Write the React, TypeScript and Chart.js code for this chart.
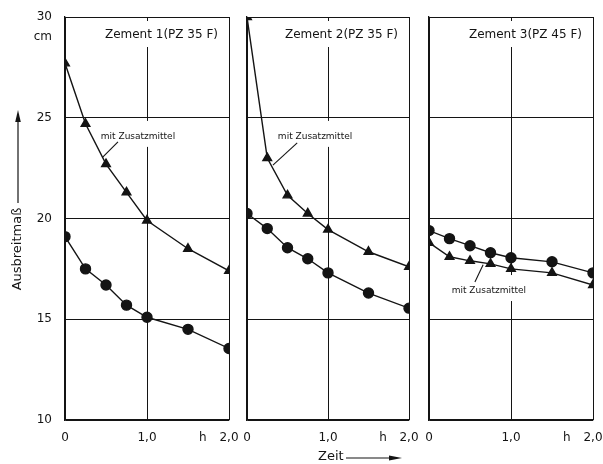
import React, { useEffect, useRef } from "react";
import { Chart, registerables } from "chart.js";

Chart.register(...registerables);

// ---- data ----
const times = [0, 0.25, 0.5, 0.75, 1.0, 1.5, 2.0];
const z1With = [27.7, 24.7, 22.7, 21.3, 19.9, 18.5, 17.4];
const z1Without = [19.1, 17.5, 16.7, 15.7, 15.1, 14.5, 13.55];
const z2With = [30.0, 23.0, 21.15, 20.25, 19.45, 18.35, 17.6];
const z2Without = [20.25, 19.5, 18.55, 18.0, 17.3, 16.3, 15.55];
const z3With = [18.8, 18.1, 17.9, 17.75, 17.5, 17.3, 16.7];
const z3Without = [19.4, 19.0, 18.65, 18.3, 18.05, 17.85, 17.3];

const panelTitles = ["Zement 1(PZ 35 F)", "Zement 2(PZ 35 F)", "Zement 3(PZ 45 F)"];
const xTickValues = [0, 1, 1.68, 2];
const xTickLabels = ["0", "1,0", "h", "2,0"];
const yTickValues = [10, 15, 20, 25, 29, 30];
const yTickLabels = ["10", "15", "20", "25", "cm", "30"];
const annotationText = "mit Zusatzmittel";
const yAxisTitle = "Ausbreitmaß";
const xAxisTitle = "Zeit";

const FONT = "'DejaVu Sans', sans-serif";
const INK = "#141414";
const W = 603;
const H = 464;

type Panel = {
  title: string;
  withData: number[];
  withoutData: number[];
  padLeft: number;
  padRight: number;
  showY: boolean;
  ann: { tx: number; ty: number; lx1: number; ly1: number; lx2: number; ly2: number };
  yTitle: boolean;
  xTitle: boolean;
};

const panels: Panel[] = [
  {
    title: panelTitles[0], withData: z1With, withoutData: z1Without,
    padLeft: 0, padRight: W - 229, showY: true,
    ann: { tx: 0.89, ty: 24.05, lx1: 0.646, ly1: 23.8, lx2: 0.46, ly2: 23.05 },
    yTitle: true, xTitle: false,
  },
  {
    title: panelTitles[1], withData: z2With, withoutData: z2Without,
    padLeft: 247, padRight: W - 409, showY: false,
    ann: { tx: 0.84, ty: 24.05, lx1: 0.62, ly1: 23.75, lx2: 0.32, ly2: 22.65 },
    yTitle: false, xTitle: true,
  },
  {
    title: panelTitles[2], withData: z3With, withoutData: z3Without,
    padLeft: 429, padRight: W - 593, showY: false,
    ann: { tx: 0.73, ty: 16.4, lx1: 0.66, ly1: 17.7, lx2: 0.56, ly2: 16.85 },
    yTitle: false, xTitle: false,
  },
];

function makeDecor(p: Panel) {
  return {
    id: "decor",
    beforeDatasetsDraw(chart: any) {
      const { ctx, chartArea, scales } = chart;
      ctx.save();
      ctx.fillStyle = "#ffffff";
      ctx.font = `12px ${FONT}`;
      const tw = ctx.measureText(p.title).width;
      ctx.fillRect(chartArea.right - 11 - tw - 3, chartArea.top + 4, tw + 6, 26);
      ctx.font = `9px ${FONT}`;
      const aw = ctx.measureText(annotationText).width;
      const ax = scales.x.getPixelForValue(p.ann.tx);
      const ay = scales.y.getPixelForValue(p.ann.ty);
      ctx.fillRect(ax - aw / 2 - 2, ay - 16, aw + 4, 26);
      ctx.restore();
    },
    afterDatasetsDraw(chart: any) {
      const { ctx, chartArea, scales } = chart;
      ctx.save();
      ctx.fillStyle = INK;
      ctx.strokeStyle = INK;
      ctx.font = `12px ${FONT}`;
      ctx.textAlign = "right";
      ctx.textBaseline = "middle";
      ctx.fillText(p.title, chartArea.right - 11, chartArea.top + 18);
      ctx.font = `9px ${FONT}`;
      ctx.textAlign = "center";
      const ax = scales.x.getPixelForValue(p.ann.tx);
      const ay = scales.y.getPixelForValue(p.ann.ty);
      ctx.fillText(annotationText, ax, ay);
      ctx.lineWidth = 1.1;
      ctx.beginPath();
      ctx.moveTo(scales.x.getPixelForValue(p.ann.lx1), scales.y.getPixelForValue(p.ann.ly1));
      ctx.lineTo(scales.x.getPixelForValue(p.ann.lx2), scales.y.getPixelForValue(p.ann.ly2));
      ctx.stroke();
      ctx.restore();
    },
    afterDraw(chart: any) {
      const { ctx } = chart;
      ctx.save();
      ctx.fillStyle = INK;
      ctx.strokeStyle = INK;
      ctx.lineWidth = 1.2;
      if (p.yTitle) {
        const cx = 18;
        ctx.save();
        ctx.translate(cx, 249);
        ctx.rotate(-Math.PI / 2);
        ctx.font = `13px ${FONT}`;
        ctx.textAlign = "center";
        ctx.textBaseline = "middle";
        ctx.fillText(yAxisTitle, 0, 0);
        ctx.restore();
        ctx.beginPath();
        ctx.moveTo(cx, 203);
        ctx.lineTo(cx, 118);
        ctx.stroke();
        ctx.beginPath();
        ctx.moveTo(cx, 110);
        ctx.lineTo(cx - 2.8, 122);
        ctx.lineTo(cx + 2.8, 122);
        ctx.closePath();
        ctx.fill();
      }
      if (p.xTitle) {
        ctx.font = `13px ${FONT}`;
        ctx.textAlign = "left";
        ctx.textBaseline = "middle";
        ctx.fillText(xAxisTitle, 318, 457);
        ctx.beginPath();
        ctx.moveTo(346, 458);
        ctx.lineTo(392, 458);
        ctx.stroke();
        ctx.beginPath();
        ctx.moveTo(402, 458);
        ctx.lineTo(389, 455.5);
        ctx.lineTo(389, 460.5);
        ctx.closePath();
        ctx.fill();
      }
      ctx.restore();
    },
  };
}

function PanelChart({ p }: { p: Panel }) {
  const ref = useRef<HTMLCanvasElement | null>(null);
  useEffect(() => {
    if (!ref.current) return;
    const lineStyle = {
      borderColor: INK,
      backgroundColor: INK,
      pointBackgroundColor: INK,
      pointBorderColor: INK,
      borderWidth: 1.4,
      tension: 0,
    };
    const chart = new Chart(ref.current, {
      type: "line",
      data: {
        datasets: [
          {
            label: "mit Zusatzmittel",
            data: times.map((t, i) => ({ x: t, y: p.withData[i] })),
            pointStyle: "triangle",
            pointRadius: 5,
            ...lineStyle,
          },
          {
            label: "ohne Zusatzmittel",
            data: times.map((t, i) => ({ x: t, y: p.withoutData[i] })),
            pointStyle: "circle",
            pointRadius: 5,
            ...lineStyle,
          },
        ],
      },
      options: {
        responsive: false,
        animation: false,
        events: [],
        layout: { padding: { left: p.padLeft, right: p.padRight, top: 17, bottom: 0 } },
        plugins: { legend: { display: false }, tooltip: { enabled: false }, title: { display: false } },
        scales: {
          x: {
            type: "linear",
            min: 0,
            max: 2,
            afterBuildTicks: (scale: any) => {
              scale.ticks = xTickValues.map((v) => ({ value: v }));
            },
            afterFit: (scale: any) => {
              scale.height = 44;
              scale.paddingLeft = 0;
              scale.paddingRight = 0;
            },
            ticks: {
              autoSkip: false,
              maxRotation: 0,
              padding: 11,
              color: INK,
              font: { family: FONT, size: 12 },
              callback: (_v: any, i: number) => xTickLabels[i],
            },
            grid: {
              drawTicks: false,
              lineWidth: 1,
              color: (c: any) => (c.tick && c.tick.value === 1.68 ? "rgba(0,0,0,0)" : INK),
            },
            border: { color: INK, width: 1.3 },
          },
          y: {
            type: "linear",
            min: 10,
            max: 30,
            afterBuildTicks: (scale: any) => {
              scale.ticks = yTickValues.map((v) => ({ value: v }));
            },
            afterFit: (scale: any) => {
              scale.width = p.showY ? 65 : 0;
              scale.paddingTop = 0;
              scale.paddingBottom = 0;
            },
            ticks: {
              display: p.showY,
              autoSkip: false,
              padding: 13,
              color: INK,
              font: { family: FONT, size: 12 },
              callback: (_v: any, i: number) => yTickLabels[i],
            },
            grid: {
              drawTicks: false,
              lineWidth: 1,
              color: (c: any) => (c.tick && c.tick.value === 29 ? "rgba(0,0,0,0)" : INK),
            },
            border: { color: INK, width: 1.3 },
          },
        },
      },
      plugins: [makeDecor(p)],
    } as any);
    return () => chart.destroy();
  }, [p]);
  return (
    <canvas
      ref={ref}
      width={W}
      height={H}
      style={{ position: "absolute", left: 0, top: 0, width: W, height: H }}
    />
  );
}

export default function App() {
  return (
    <div style={{ position: "absolute", left: 0, top: 0, width: W, height: H, background: "#fff" }}>
      {panels.map((p, i) => (
        <PanelChart key={i} p={p} />
      ))}
    </div>
  );
}
